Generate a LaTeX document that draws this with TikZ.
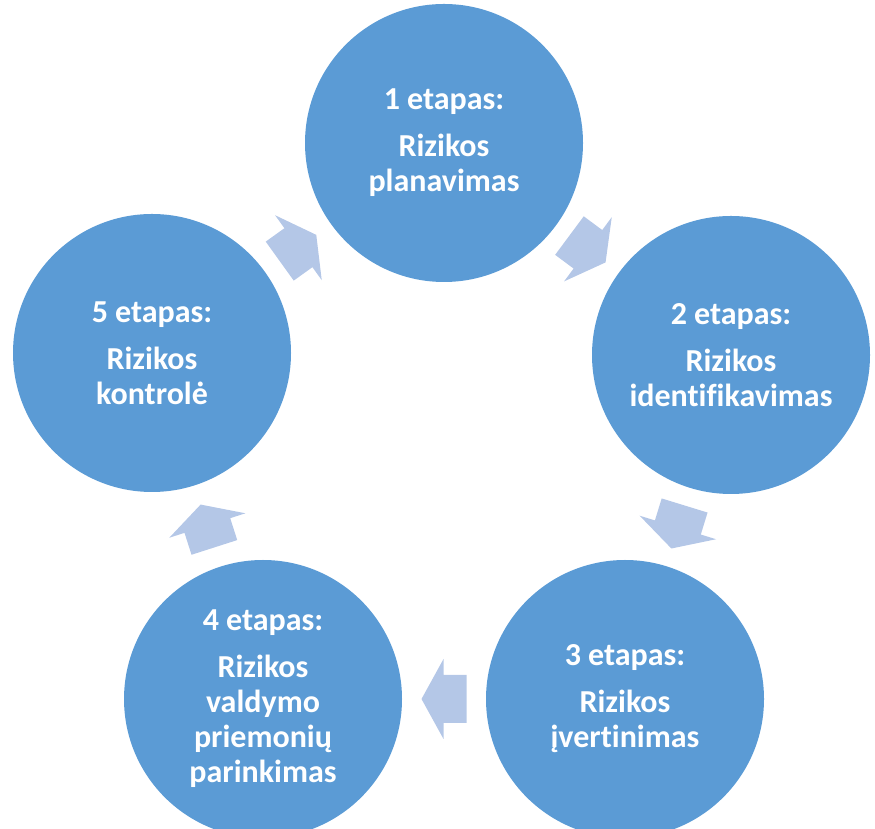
\documentclass[tikz,border=0pt]{standalone}
\usepackage{fontspec}
\setmainfont{Carlito}[Ligatures=NoCommon]
\usepackage{tikz}
\usetikzlibrary{calc}

\definecolor{stageblue}{HTML}{5B9BD5}
\definecolor{arrowblue}{HTML}{B4C7E7}

\tikzset{
  stage/.style={circle, fill=stageblue, text=white, inner sep=0pt, minimum size=278pt,
    align=center, font=\fontsize{32}{35}\selectfont\bfseries},
  cyclearrow/.pic={
    \fill[arrowblue] (-22.5,-24) -- (0.5,-24) -- (0.5,-40) -- (22.5,0)
      -- (0.5,40) -- (0.5,24) -- (-22.5,24) -- cycle;
  }
}

\begin{document}
\begin{tikzpicture}[x=1pt, y=1pt]
  \useasboundingbox (0,0) rectangle (875,829);
  % five stages round the cycle
  \node[stage] (c1) at (444,686) {1 etapas:\\[12pt] Rizikos\\ planavimas};
  \node[stage] (c2) at (731,474) {2 etapas:\\[12pt] Rizikos\\ identifikavimas};
  \node[stage] (c3) at (625,130) {3 etapas:\\[12pt] Rizikos\\ įvertinimas};
  \node[stage] (c4) at (263,130) {4 etapas:\\[12pt] Rizikos\\ valdymo\\ priemonių\\ parinkimas};
  \node[stage] (c5) at (152,476) {5 etapas:\\[12pt] Rizikos\\ kontrolė};
  % arrows between them
  \pic[rotate=-36.6] at ($(c1)!0.5!(c2)$) {cyclearrow};
  \pic[rotate=-107.1] at ($(c2)!0.5!(c3)$) {cyclearrow};
  \pic[rotate=180] at ($(c3)!0.5!(c4)$) {cyclearrow};
  \pic[rotate=107.8] at ($(c4)!0.5!(c5)$) {cyclearrow};
  \pic[rotate=35.7] at ($(c5)!0.5!(c1)$) {cyclearrow};
\end{tikzpicture}
\end{document}
